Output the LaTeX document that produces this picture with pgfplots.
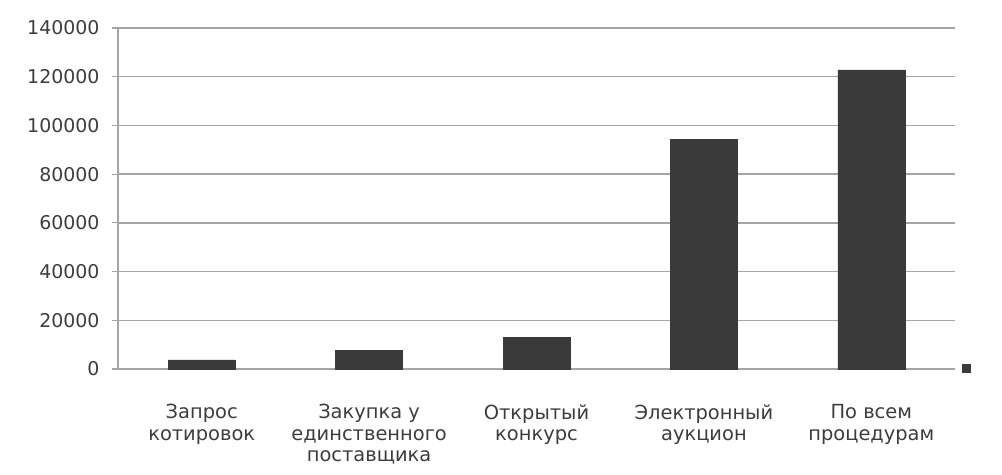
\documentclass[border=0pt]{standalone}
\usepackage{pgfplots}
\pgfplotsset{compat=1.18}
\usepackage{fontspec}
\setmainfont{DejaVu Sans}
\definecolor{barc}{RGB}{58,58,58}
\definecolor{gridc}{RGB}{165,165,165}
\definecolor{txtc}{RGB}{60,60,60}
\begin{document}
\begin{tikzpicture}
\path[use as bounding box] (-118bp,-106bp) rectangle (884bp,369bp);
\begin{axis}[
  at={(0,0)}, anchor=south west,
  scale only axis,
  width=837bp, height=341bp,
  xmin=-0.5, xmax=4.5,
  ymin=0, ymax=140000,
  ytick={0,20000,...,140000},
  scaled y ticks=false,
  yticklabel style={/pgf/number format/fixed,/pgf/number format/1000 sep={},font=\fontsize{19}{21}\selectfont,text=txtc,xshift=-9bp},
  /pgf/number format/assume math mode=true,
  xtick={0,1,2,3,4},
  xticklabels={{Запрос\\котировок},{Закупка у\\единственного\\поставщика},{Открытый\\конкурс},{Электронный\\аукцион},{По всем\\процедурам}},
  xticklabel style={align=center,font=\fontsize{19.5}{21.5}\selectfont,text=txtc,yshift=-26bp},
  x tick style={draw=none},
  extra x ticks={-0.5,0.5,1.5,2.5,3.5,4.5},
  extra x tick labels={},
  extra x tick style={grid=none,major tick length=6bp,tick style={draw=gridc,line width=1.2bp}},
  y tick style={draw=gridc,line width=1.2bp},
  major tick length=6bp,
  tick align=outside,
  axis x line*=bottom, axis y line*=left,
  axis line style={draw=gridc,line width=1.5bp},
  ymajorgrids,
  grid style={draw=gridc,line width=1.5bp},
  ybar, bar width=0.4,
  legend style={at={(1.004,0.003)},anchor=west,draw=none,fill=none,font=\fontsize{12}{14}\selectfont},
  legend image code/.code={\fill[barc] (0bp,-4bp) rectangle (8bp,4bp);},
]
\addplot[fill=barc,draw=barc] coordinates {(0,3700) (1,7800) (2,13100) (3,94400) (4,122800)};
\addlegendentry{}
\end{axis}
\end{tikzpicture}
\end{document}
